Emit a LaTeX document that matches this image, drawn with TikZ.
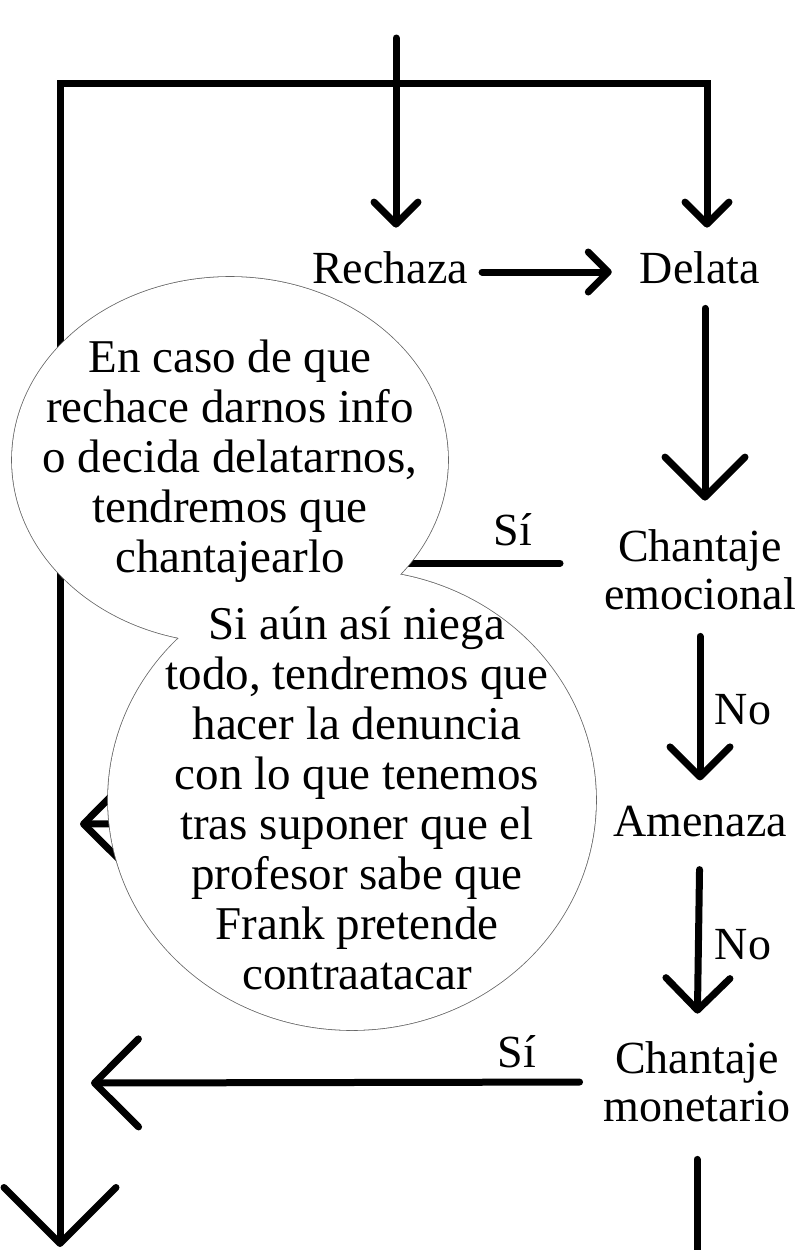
\documentclass[tikz,border=0pt]{standalone}
\usepackage{fontspec}
\setmainfont{Liberation Serif}
\usetikzlibrary{arrows.meta}

\begin{document}
\begin{tikzpicture}[x = 1pt, y = -1pt,
		lbl/.style = {font = \fontsize{46}{48}\selectfont, inner sep = 0pt, align = center},
		say/.style = {font = \fontsize{47}{50}\selectfont, inner sep = 0pt, align = center},
		link/.style = {line width = 7pt, line cap = round},
		flow/.style = {link, -{Straight Barb[length = #1, width' = 0pt 2, round]}},
		bubble/.style = {draw = black!60, line width = 1.6pt}]
		\useasboundingbox (0, 0) rectangle (800, 1250);
		% steps
		\node[lbl] (rechaza) at (390, 268) {Rechaza};
		\node[lbl] (delata) at (700, 268) {Delata};
		\node[lbl] (emocional) at (700, 570) {Chantaje\\emocional};
		\node[lbl] (amenaza) at (700, 822) {Amenaza};
		\node[lbl] (monetario) at (697, 1082) {Chantaje\\monetario};
		% labels
		\node[lbl] (siA) at (513, 530) {Sí};
		\node[lbl] (noA) at (743, 710) {No};
		\node[lbl] (noB) at (743, 945) {No};
		\node[lbl] (siB) at (517, 1052) {Sí};
		\node[lbl] (noC) at (742, 1268) {No};
		% free ends
		\coordinate (start) at (396, 38);
		\coordinate (tl) at (60, 83);
		\coordinate (tr) at (707, 83);
		\coordinate (down) at (60, 1247);
		\coordinate (tipA) at (408, 563);
		\coordinate (backA) at (80, 824);
		\coordinate (backB) at (91, 1083);
		\coordinate (exitC) at (690, 1320);
		% lines
		\draw[flow = 22pt, shorten >= 24pt] (start) -- (start |- rechaza.north);
		\draw[link, {Straight Barb[length = 56pt, width' = 0pt 2, round]}-{Straight Barb[length = 22pt, width' = 0pt 2, round]}, shorten >= 24pt] (down) -- (tl) -- (tr) -- (tr |- delata.north);
		\draw[flow = 20pt, shorten <= 14pt, shorten >= 28pt] ([yshift = -4pt]rechaza.east) -- ([yshift = -4pt]delata.west);
		\draw[flow = 40pt, shorten <= 24pt, shorten >= 29pt] ([xshift = 5pt]delata.south) -- ([xshift = 5pt]emocional.north);
		\draw[link, shorten >= 44pt] (tipA) -- (tipA -| emocional.west);
		\draw[flow = 30pt, shorten <= 26pt, shorten >= 26pt] (emocional.south) -- (amenaza.north);
		\draw[flow = 36pt, shorten <= 28pt] (amenaza.west) -- (backA);
		\draw[flow = 32pt, shorten <= 32pt, shorten >= 28pt] (amenaza.south) -- (monetario.north);
		\draw[flow = 44pt, shorten <= 24pt] (monetario.west) -- (backB);
		\draw[link, shorten <= 37pt] (monetario.south) -- (monetario.south |- exitC);
		% bubbles
		\draw[bubble] (230, 460) ellipse [x radius = 218, y radius = 183];
		\draw[bubble] (352, 800) ellipse [x radius = 244, y radius = 230];
		\fill[white] (230, 460) ellipse [x radius = 218, y radius = 183];
		\fill[white] (352, 800) ellipse [x radius = 244, y radius = 230];
		\node[say] (noteA) at (230, 461) {En caso de que\\rechace darnos info\\o decida delatarnos,\\tendremos que\\chantajearlo};
		\node[say] (noteB) at (357, 798) {Si aún así niega\\todo, tendremos que\\hacer la denuncia\\con lo que tenemos\\tras suponer que el\\profesor sabe que\\Frank pretende\\contraatacar};
	\end{tikzpicture}
\end{document}
